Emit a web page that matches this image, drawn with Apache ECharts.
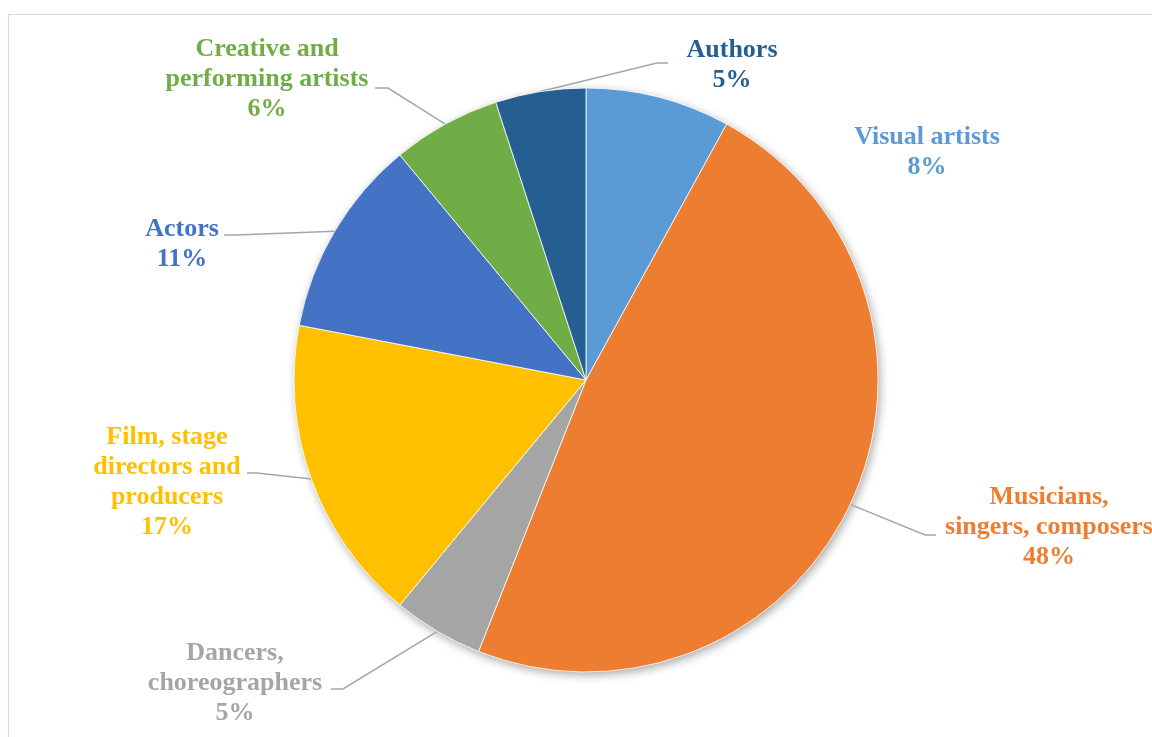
<!DOCTYPE html>
<html>
<head>
<meta charset="utf-8">
<title>Artists by occupation</title>
<script src="https://cdn.jsdelivr.net/npm/echarts@6/dist/echarts.min.js"></script>
<style>
  html, body { margin: 0; padding: 0; background: #ffffff; }
  #chart { width: 1152px; height: 737px; }
</style>
</head>
<body>
<div id="chart"></div>
<script>
// Occupations, clockwise from 12 o'clock
const categories = [
  'Visual artists',
  'Musicians,\nsingers, composers',
  'Dancers,\nchoreographers',
  'Film, stage\ndirectors and\nproducers',
  'Actors',
  'Creative and\nperforming artists',
  'Authors'
];
// Share of each occupation, percent
const shares = [8, 48, 5, 17, 11, 6, 5];
const sliceColors = ['#5B9BD5', '#ED7D31', '#A5A5A5', '#FFC000', '#4472C4', '#70AD47', '#255E91'];

// Pie geometry
const CENTER = [586, 380];
const RADIUS = 292;

// Label block centres and leader-line bends (null = no leader line)
const labelSpots = [
  { x: 927, y: 152, bend: null },
  { x: 1049, y: 527, bend: [[925, 535], [936, 535]] },
  { x: 235, y: 683, bend: [[343, 689], [331, 689]] },
  { x: 167, y: 482, bend: [[257, 473], [247, 473]] },
  { x: 182, y: 244, bend: [[236, 235], [224, 235]] },
  { x: 267, y: 79, bend: [[388, 88], [375, 88]] },
  { x: 732, y: 65, bend: [[657, 63], [668, 63]] }
];

// Point on the rim at the middle of slice i
function rimPoint(i) {
  const total = shares.reduce((a, b) => a + b, 0);
  let before = 0;
  for (let k = 0; k < i; k++) before += shares[k];
  const mid = (before + shares[i] / 2) / total * Math.PI * 2;
  return [CENTER[0] + RADIUS * Math.sin(mid), CENTER[1] - RADIUS * Math.cos(mid)];
}

const chart = echarts.init(document.getElementById('chart'), null, { renderer: 'canvas' });

const pieData = categories.map((name, i) => ({
  name: name,
  value: shares[i],
  itemStyle: { color: sliceColors[i] },
  label: { color: sliceColors[i] },
  labelLine: { show: labelSpots[i].bend !== null }
}));

chart.setOption({
  backgroundColor: '#ffffff',
  animation: false,
  graphic: [{
    type: 'rect',
    shape: { x: 8.5, y: 14.5, width: 1170, height: 760 },
    style: { fill: 'none', stroke: '#d9d9d9', lineWidth: 1.2 },
    silent: true,
    z: -10
  }],
  series: [
    {
      // soft drop shadow under the whole disc
      type: 'pie',
      center: CENTER,
      radius: RADIUS,
      silent: true,
      z: 0,
      label: { show: false },
      labelLine: { show: false },
      data: [{ value: 1, itemStyle: { color: '#ffffff', shadowBlur: 10, shadowColor: 'rgba(0,0,0,0.35)', shadowOffsetX: 2, shadowOffsetY: 3 } }]
    },
    {
      type: 'pie',
      center: CENTER,
      radius: RADIUS,
      startAngle: 90,
      clockwise: true,
      avoidLabelOverlap: false,
      z: 2,
      itemStyle: { borderColor: '#ffffff', borderWidth: 0.8 },
      label: {
        show: true,
        position: 'outside',
        formatter: '{b}\n{c}%',
        fontFamily: 'Liberation Serif',
        fontWeight: 'bold',
        fontSize: 26,
        lineHeight: 30,
        align: 'center'
      },
      labelLine: {
        show: true,
        smooth: false,
        lineStyle: { color: '#A6A6A6', width: 1.5 }
      },
      labelLayout: function (params) {
        const i = params.dataIndex;
        const spot = labelSpots[i];
        const out = { x: spot.x, y: spot.y, align: 'center', verticalAlign: 'middle' };
        if (spot.bend) {
          const start = (params.labelLinePoints && params.labelLinePoints[0]) || rimPoint(i);
          out.labelLinePoints = [start, spot.bend[0], spot.bend[1]];
        }
        return out;
      },
      data: pieData
    }
  ]
});
</script>
</body>
</html>
